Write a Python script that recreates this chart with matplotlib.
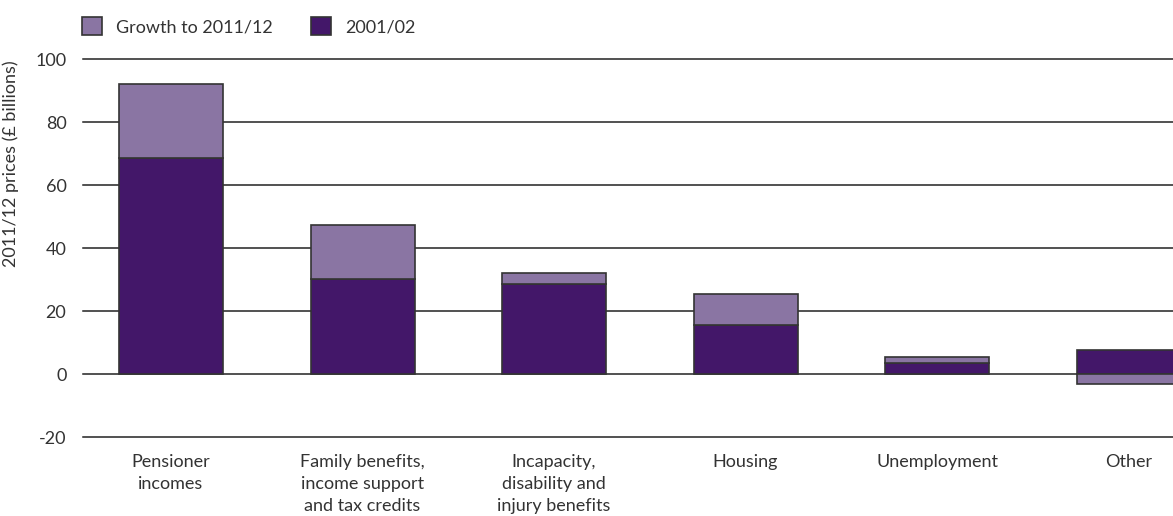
import matplotlib.pyplot as plt
import numpy as np

# Benefit spending by group, 2011/12 prices (£ billions)
categories = [
    "Pensioner\nincomes",
    "Family benefits,\nincome support\nand tax credits",
    "Incapacity,\ndisability and\ninjury benefits",
    "Housing",
    "Unemployment",
    "Other",
]
spend_2001 = [68.7, 30.4, 28.7, 15.7, 3.6, 7.7]
growth_to_2011 = [23.5, 17.1, 3.4, 9.8, 1.9, -3.0]
y_ticks = [-20, 0, 20, 40, 60, 80, 100]

dark = "#431769"
light = "#8a75a3"
edge = "#333333"
text_col = "#333333"

plt.rcParams['font.family'] = ['Lato', 'DejaVu Sans']

fig = plt.figure(figsize=(11.73, 5.16), dpi=100)
ax = fig.add_axes([0.0708, 0.1525, 0.9292, 0.7325])

x = np.arange(len(categories))
base = np.array(spend_2001)
growth = np.array(growth_to_2011)
# positive growth sits on top of the 2001/02 bar, negative growth hangs below zero
growth_bottom = np.where(growth >= 0, base, 0)

width = 0.543
ax.bar(x, base, width, color=dark, edgecolor=edge, linewidth=1.2,
       label="2001/02", zorder=3)
ax.bar(x, growth, width, bottom=growth_bottom, color=light, edgecolor=edge,
       linewidth=1.2, label="Growth to 2011/12", zorder=3)

# horizontal rules at every tick, including the bottom one
for t in y_ticks:
    ax.axhline(t, color="#222222", linewidth=1.1, zorder=1, clip_on=False)

ax.set_xlim(-0.4595, 5.232)
ax.set_ylim(-20, 100)
ax.set_yticks(y_ticks)
ax.set_yticklabels([str(t) for t in y_ticks])
ax.set_xticks(x)
ax.set_xticklabels(categories, linespacing=1.45)
ax.tick_params(axis='both', length=0, labelsize=13, colors=text_col)
ax.tick_params(axis='y', pad=12)
ax.tick_params(axis='x', pad=12)
for s in ax.spines.values():
    s.set_visible(False)

ax.set_ylabel("2011/12 prices (£ billions)", fontsize=13, color=text_col)
ax.yaxis.set_label_coords(-0.059, 0.725)

handles, labels = ax.get_legend_handles_labels()
fig.legend(handles[::-1], labels[::-1], loc='upper left', bbox_to_anchor=(0.056, 0.998),
           ncol=2, frameon=False, fontsize=13, handlelength=1.1, handleheight=1.1,
           columnspacing=2.1, handletextpad=0.8, labelcolor=text_col)

fig.savefig("out.png", dpi=100)
